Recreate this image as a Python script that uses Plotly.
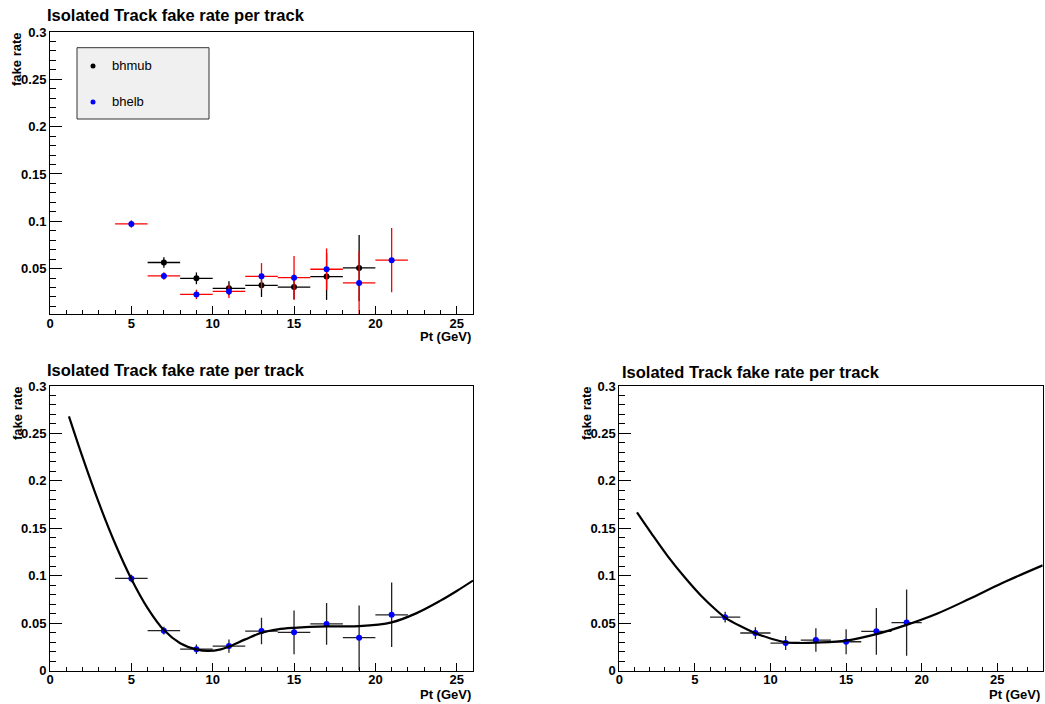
import plotly.graph_objects as go

# ---- measurements: isolated-track fake rate per track ----
bin_width = 2.0  # GeV

# electron-triggered sample (bhelb)
pt_elb = [5, 7, 9, 11, 13, 15, 17, 19, 21]
rate_elb = [0.0972, 0.0422, 0.0227, 0.0259, 0.0418, 0.0404, 0.0493, 0.0348, 0.0589]
err_elb = [0.004, 0.004, 0.005, 0.007, 0.014, 0.023, 0.022, 0.034, 0.034]

# muon-triggered sample (bhmub)
pt_mub = [7, 9, 11, 13, 15, 17, 19]
rate_mub = [0.0564, 0.0397, 0.0291, 0.0323, 0.0305, 0.0415, 0.0507]
err_mub = [0.0056, 0.0062, 0.0074, 0.0123, 0.0132, 0.0246, 0.0349]

# fitted curves, sampled along pT
fit_pt_elb = [1.165, 2, 3, 4, 5, 6, 7, 8, 9, 9.7, 10.5, 11, 12, 13, 14, 15, 17, 19,
              21, 22.5, 24, 25, 26]
fit_rate_elb = [0.268, 0.225, 0.177, 0.134, 0.0967, 0.066, 0.0428, 0.029, 0.0224,
                0.0208, 0.0225, 0.0255, 0.033, 0.040, 0.0436, 0.0452, 0.0467, 0.0469,
                0.0509, 0.0604, 0.0738, 0.084, 0.095]

fit_pt_mub = [1.17, 2.11, 3.21, 4.31, 5.41, 6.51, 7, 8, 9, 10, 11, 12, 13, 15, 17, 19,
              21, 23.13, 25.33, 28]
fit_rate_mub = [0.1668, 0.145, 0.1205, 0.0987, 0.079, 0.0624, 0.056, 0.047, 0.0395,
                0.034, 0.030, 0.0292, 0.0296, 0.0317, 0.0385, 0.0483, 0.060, 0.0755,
                0.0924, 0.111]

title_text = "Isolated Track fake rate per track"
x_title = "Pt (GeV)"
y_title = "fake rate"

W, H = 1045, 704
ML, MR, MT, MB = 20, 2, 20, 20
PW, PH = W - ML - MR, H - MT - MB
FONT = "Liberation Sans"


def px(x):
    """pixel column -> paper fraction"""
    return (x - ML) / PW


def py(y):
    """pixel row (from top) -> paper fraction"""
    return 1 - (y - MT) / PH


fig = go.Figure()


def add_points(x, y, ey, marker_color, bar_color, xa, ya):
    fig.add_trace(go.Scatter(
        x=x, y=y, mode="markers", xaxis=xa, yaxis=ya, showlegend=False,
        marker=dict(color=marker_color, size=6, line=dict(width=0)),
        error_x=dict(type="constant", value=bin_width / 2, color=bar_color,
                     thickness=1.3, width=0),
        error_y=dict(type="data", array=ey, color=bar_color, thickness=1.3, width=0),
    ))


# top-left: both samples overlaid
add_points(pt_mub, rate_mub, err_mub, "black", "black", "x", "y")
add_points(pt_elb, rate_elb, err_elb, "#0000ff", "#ff0000", "x", "y")

# bottom-left: bhelb with fit
add_points(pt_elb, rate_elb, err_elb, "#0000ff", "#222222", "x2", "y2")
fig.add_trace(go.Scatter(x=fit_pt_elb, y=fit_rate_elb, mode="lines", line_shape="spline",
                         line=dict(color="black", width=2.2), xaxis="x2", yaxis="y2",
                         showlegend=False))

# bottom-right: bhmub with fit
add_points(pt_mub, rate_mub, err_mub, "#0000ff", "#222222", "x3", "y3")
fig.add_trace(go.Scatter(x=fit_pt_mub, y=fit_rate_mub, mode="lines", line_shape="spline",
                         line=dict(color="black", width=2.2), xaxis="x3", yaxis="y3",
                         showlegend=False))

tick_font = dict(family=FONT, size=13, color="black", weight="bold")


def xaxis(domain, xmax, anchor):
    return dict(domain=domain, range=[0, xmax], anchor=anchor,
                tickmode="linear", tick0=0, dtick=5,
                ticks="inside", ticklen=8, tickwidth=1, tickcolor="black",
                minor=dict(ticks="inside", ticklen=4, tickwidth=1, tickcolor="black",
                           dtick=1, tick0=0, showgrid=False),
                showline=True, linecolor="black", linewidth=1, mirror=True,
                showgrid=False, zeroline=False, tickfont=tick_font, automargin=False,
                ticklabelstandoff=-3)


def yaxis(domain, ymin, anchor):
    return dict(domain=domain, range=[ymin, 0.3 + 1e-9], anchor=anchor,
                tickmode="linear", tick0=0, dtick=0.05,
                ticks="inside", ticklen=12, tickwidth=1, tickcolor="black",
                minor=dict(ticks="inside", ticklen=6, tickwidth=1, tickcolor="black",
                           dtick=0.01, tick0=0, showgrid=False),
                showline=True, linecolor="black", linewidth=1, mirror=True,
                showgrid=False, zeroline=False, tickfont=tick_font, automargin=False)


left_dom = [px(50), px(473)]
right_dom = [px(619.3), min(1.0, px(1042.7))]
top_dom = [py(314), py(32)]
bot_dom = [py(670.7), py(386)]

fig.update_layout(
    width=W, height=H, autosize=False,
    margin=dict(l=ML, r=MR, t=MT, b=MB, autoexpand=False),
    paper_bgcolor="white", plot_bgcolor="white",
    xaxis=xaxis(left_dom, 26, "y"),
    yaxis=yaxis(top_dom, 0.002, "x"),
    xaxis2=xaxis(left_dom, 26, "y2"),
    yaxis2=yaxis(bot_dom, 0, "x2"),
    xaxis3=xaxis(right_dom, 28, "y3"),
    yaxis3=yaxis(bot_dom, 0, "x3"),
)

annotations = []
# panel titles
for tx, ty in [(45, 15), (45, 370), (620, 372)]:
    annotations.append(dict(text=title_text, x=px(tx), y=py(ty), xref="paper", yref="paper",
                            xanchor="left", yanchor="middle", showarrow=False,
                            font=dict(family=FONT, size=16.5, color="black", weight="bold")))
# axis titles
for tx, ty in [(473, 337), (473, 694), (1042, 694)]:
    annotations.append(dict(text=x_title, x=px(tx), y=py(ty), xref="paper", yref="paper",
                            xanchor="right", yanchor="middle", showarrow=False,
                            font=dict(family=FONT, size=13, color="black", weight="bold")))
for tx, ty in [(17, 60), (17, 414), (586, 414)]:
    annotations.append(dict(text=y_title, x=px(tx), y=py(ty), xref="paper", yref="paper",
                            xanchor="center", yanchor="middle", textangle=-90,
                            showarrow=False,
                            font=dict(family=FONT, size=13, color="black", weight="bold")))

# legend box for the overlay panel
legend_entries = [("bhmub", "black", 66), ("bhelb", "#0000ff", 102)]
shapes = [dict(type="rect", xref="paper", yref="paper", x0=px(77), x1=px(209),
               y0=py(119), y1=py(47.7), fillcolor="#f0f0f0",
               line=dict(color="#333333", width=1), layer="above")]
for label, color, ly in legend_entries:
    shapes.append(dict(type="circle", xref="paper", yref="paper",
                       x0=px(90.5), x1=px(95.5), y0=py(ly + 2.5), y1=py(ly - 2.5),
                       fillcolor=color, line=dict(width=0), layer="above"))
    annotations.append(dict(text=label, x=px(110), y=py(ly), xref="paper", yref="paper",
                            xanchor="left", yanchor="middle", showarrow=False,
                            font=dict(family=FONT, size=13, color="black")))

fig.update_layout(annotations=annotations, shapes=shapes)

fig.write_html("out.html")
